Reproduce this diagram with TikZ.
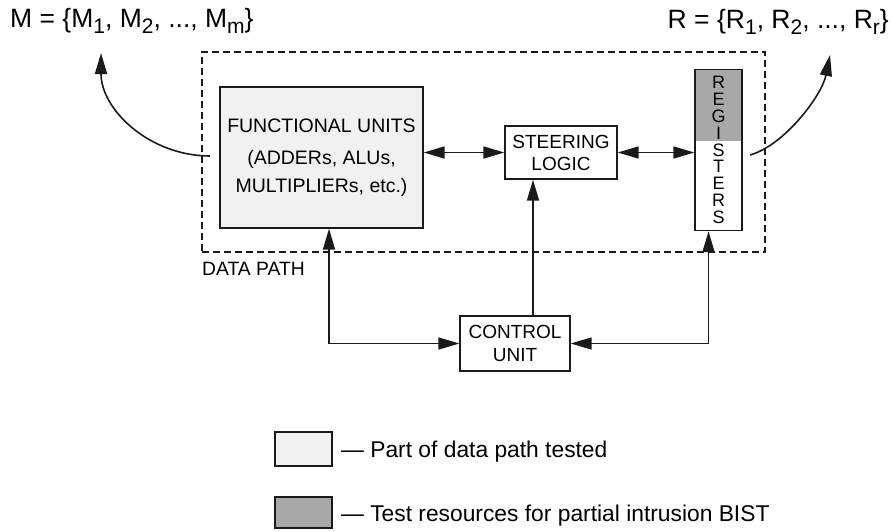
\documentclass[tikz,border=0pt]{standalone}
\usepackage{fontspec}
\setmainfont{Liberation Sans}
\usetikzlibrary{arrows.meta}
\definecolor{lightfill}{HTML}{F1F1F1}
\definecolor{bistgray}{HTML}{A8A8A8}
\definecolor{inkline}{HTML}{1A1A1A}
% lowered subscript in the set notation
\newcommand{\lowsub}[1]{\raisebox{-6pt}{\fontsize{21}{21}\selectfont #1}}
\begin{document}
\begin{tikzpicture}[x=1pt,y=-1pt,
  >={Triangle[length=21pt,width=12pt]},
  unit/.style={draw=inkline,line width=1.3pt,inner sep=0pt,align=center,
    font=\fontsize{19}{22}\selectfont},
  link/.style={draw=inkline,line width=1.6pt},
  legendbox/.style={draw=inkline,line width=1.3pt,inner sep=0pt,minimum width=57pt},
  label/.style={inner sep=0pt,anchor=base west}]
\useasboundingbox (0,0) rectangle (893,531);

% data path boundary
\node[draw=inkline,dashed,dash pattern=on 7pt off 4pt,line width=1.2pt,
  minimum width=563pt,minimum height=200pt,inner sep=0pt] (dp) at (483.5,152) {};
\node[label,font=\fontsize{19.3}{22}\selectfont] (dplabel) at (202,275) {DATA PATH};

% blocks
\node[unit,fill=lightfill,minimum width=203pt,minimum height=141pt,
  font=\fontsize{19.5}{28}\selectfont] (fu) at (321.5,157.5)
  {FUNCTIONAL UNITS\\[4pt](ADDERs, ALUs,\\MULTIPLIERs, etc.)};
\node[unit,fill=white,minimum width=112pt,minimum height=53pt] (st) at (561,152.5)
  {STEERING\\LOGIC};
\node[unit,fill=white,minimum width=110pt,minimum height=55pt,
  font=\fontsize{19}{23}\selectfont] (cu) at (515,343.5) {CONTROL\\UNIT};
\node[unit,fill=white,minimum width=47pt,minimum height=161pt,
  font=\fontsize{18}{16.8}\selectfont,
  path picture={\fill[bistgray] (path picture bounding box.north west)
    rectangle ([yshift=-71pt]path picture bounding box.north east);}]
  (reg) at (718.5,150) {R\\E\\G\\I\\S\\T\\E\\R\\S};

% connections
\draw[link,<->] (fu.east |- st.west) -- (st.west);
\draw[link,<->] (st.east) -- (st.east -| reg.west);
\coordinate (cl) at ([xshift=18pt]cu.north);
\draw[link,->] (cl) -- (cl |- st.south);
\coordinate (fb) at ([xshift=7.5pt]fu.south);
\draw[link,<->] (fb) |- (cu.west);
\coordinate (rb) at ([xshift=-10pt]reg.south);
\draw[link,<->] (rb) |- (cu.east);

% outputs to the module and register sets
\coordinate (mfrom) at (210,156);
\coordinate (mto) at (101,53);
\draw[link,->] (mfrom) .. controls (150,156) and (101,110) .. (mto);
\coordinate (rfrom) at (750,155);
\coordinate (rto) at (830,55);
\draw[link,->] (rfrom) .. controls (785,145) and (822,95) .. (rto);

\node[label,font=\fontsize{26.5}{30}\selectfont] (mset) at (10,27)
  {M = \{M\lowsub{1}, M\lowsub{2}, ..., M\lowsub{m}\}};
\node[inner sep=0pt,anchor=base east,font=\fontsize{26.5}{30}\selectfont] (rset) at (889,28)
  {R = \{R\lowsub{1}, R\lowsub{2}, ..., R\lowsub{r}\}};

% legend
\node[legendbox,fill=lightfill,minimum height=34pt] (lg1) at (303.5,449) {};
\node[legendbox,fill=bistgray,minimum height=31pt] (lg2) at (303.5,512.5) {};
\node[label,font=\fontsize{22.8}{27}\selectfont] (lt1) at (341,457)
  {\textemdash\ Part of data path tested};
\node[label,font=\fontsize{22.8}{27}\selectfont] (lt2) at (341,521)
  {\textemdash\ Test resources for partial intrusion BIST};
\end{tikzpicture}
\end{document}
